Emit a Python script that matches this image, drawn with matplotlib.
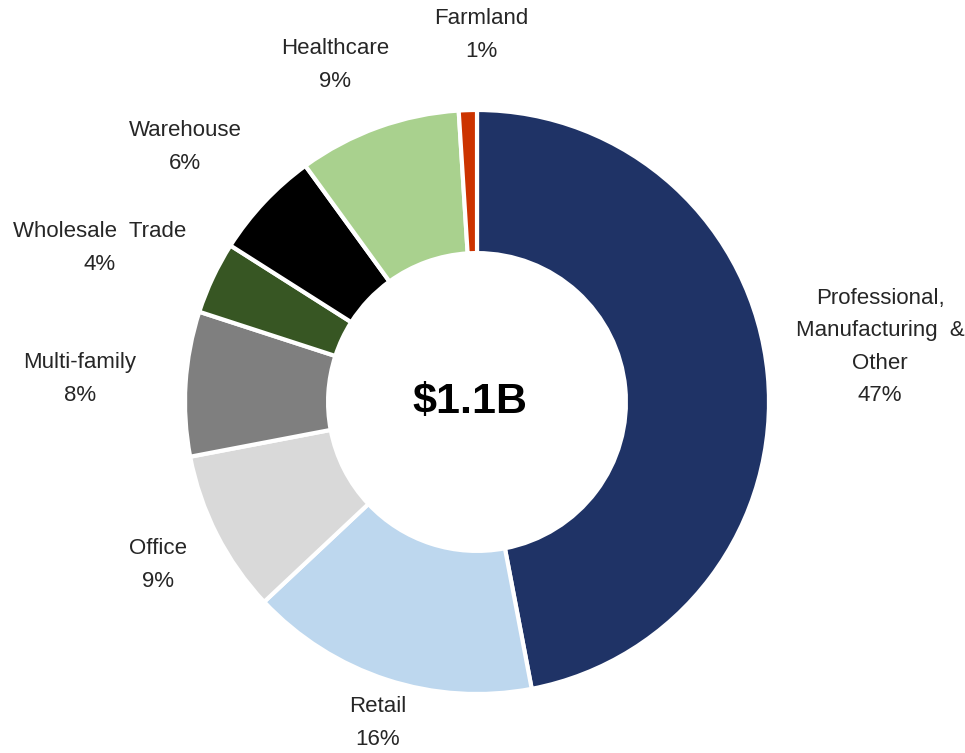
import matplotlib.pyplot as plt

# slice data, clockwise from 12 o'clock
labels = ['Professional,\nManufacturing  &\nOther', 'Retail', 'Office', 'Multi-family',
          'Wholesale  Trade', 'Warehouse', 'Healthcare', 'Farmland']
shares = [47, 16, 9, 8, 4, 6, 9, 1]
colors = ['#1F3366', '#BDD7EE', '#D9D9D9', '#7F7F7F', '#375623', '#000000', '#A9D18E', '#CC3300']
total_label = '$1.1B'

# label anchor positions (pixels from top-left)
label_pos = [(880, 347), (378, 723), (158, 565), (80, 379),
             (100, 248), (185, 147), (335, 65), (481, 35)]

plt.rcParams['font.family'] = ['Liberation Sans', 'DejaVu Sans']

W, H = 965, 753
fig = plt.figure(figsize=(W / 100, H / 100), dpi=100)
ax = fig.add_axes([0, 0, 1, 1])

cx, cy, r = 477, H - 402, 292
ax.pie(shares, colors=colors, startangle=90, counterclock=False,
       center=(cx, cy), radius=r, frame=True,
       wedgeprops=dict(width=r * 0.49, edgecolor='white', linewidth=3))
ax.set_xlim(0, W)
ax.set_ylim(0, H)
ax.set_aspect('equal')
ax.axis('off')

for lab, val, (x, y) in zip(labels, shares, label_pos):
    ax.text(x, H - y, f'{lab}\n{val}%', ha='center', va='center',
            fontsize=16, color='#262626', linespacing=1.72)

ax.text(cx - 7, cy, total_label, ha='center', va='center', fontsize=31,
        fontweight='bold', color='black')

fig.savefig('out.png', dpi=100)
